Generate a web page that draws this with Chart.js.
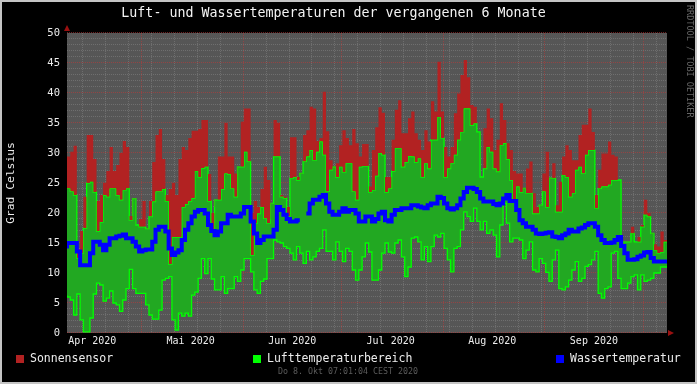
<!DOCTYPE html>
<html>
<head>
<meta charset="utf-8">
<title>Luft- und Wassertemperaturen</title>
<script src="https://cdn.jsdelivr.net/npm/chart.js@4.4.0/dist/chart.umd.min.js"></script>
<style>
  html, body { margin: 0; padding: 0; background: #000; }
  #wrap { width: 697px; height: 384px; }
</style>
</head>
<body>
<div id="wrap"><canvas id="temp-chart" width="697" height="384"></canvas></div>
<script>
const FONT = "'DejaVu Sans Mono', monospace";
const RED = "#b22222";
const GREEN_FILL = "#22a822";
const LIME = "#00ff00";
const BLUE = "#0000ff";
const PLOT_BG = "#565656";
const TEXT_COLOR = "#ececec";

// x axis is counted in days from 1 Apr 2020 00:00
const X_MIN = 7.29; // 8 Apr 07:01
const X_MAX = 190.29; // 8 Okt 07:01
const FIRST_DAY = 7.29; // start of the first daily value

const MONTH_LABELS = ["Apr 2020", "Mai 2020", "Jun 2020", "Jul 2020", "Aug 2020", "Sep 2020"];
const MONTH_LABEL_DAYS = [15, 45, 76, 106, 137, 168];
const MONTH_START_DAYS = [30, 61, 91, 122, 153, 183];
const MONDAY_DAYS = [12, 19, 26, 33, 40, 47, 54, 61, 68, 75, 82, 89, 96, 103, 110, 117, 124, 131, 138, 145, 152, 159, 166, 173, 180, 187];
const Y_LABELS = [0, 5, 10, 15, 20, 25, 30, 35, 40, 45, 50];

// daily values
const sunMax = [
  33.7, 29.4, 30.2, 31.2, 14, 17, 22.7, 33, 33, 29, 22, 23, 25, 27, 31, 27, 28, 30, 32, 31,
  19.5, 18, 17.5, 19, 22, 17, 22, 28.5, 33, 34, 29, 23, 24, 25, 23, 29, 31, 30.5, 32.5, 33.7,
  33.7, 34, 35.5, 35.5, 26.5, 20,
  21, 29.4, 29.4, 35, 29.4, 29.4, 26.6, 26.6, 35.2, 37.4, 37.4, 20, 22, 21, 24, 27.7, 25.5, 19,
  35.5, 35, 23, 22.7, 21, 32.6, 32.6, 26, 25.7, 33, 33.8, 37.7, 37.4, 32, 32.5, 40.2, 33.6, 28.8,
  23.5, 28.3, 31.3, 33.8, 32.5, 31.3, 34, 31.6, 29.4,
  31.5, 31.5, 24.4, 30.5, 34.3, 37.6, 36.7, 26, 26, 32.2, 37.2, 38.8, 33.3, 33.3, 35.8, 36.9,
  33.3, 32.2, 30.5, 33.8, 31.9, 38.6, 36.9, 45.2, 36.9, 31, 29.4, 31, 36.6, 39.9, 43, 45.5, 42.6,
  38, 37.7, 32.2, 26, 34.1, 37.4, 35.8, 30.5, 32.2, 38.3, 35.5, 31.6, 30.5,
  27, 26.6, 26.6, 21.5, 27.4, 28.6, 23.3, 21, 18, 26.6, 30.2, 22, 28.3, 21.3, 25.2, 29.4, 31.3,
  30.5, 28.8, 28.8, 33, 34.7, 34.7, 37.4, 33.5, 23, 27.2, 29.9, 29.9, 31.9, 29.7, 29.4, 25, 14,
  14.7, 14.7, 17.7, 15.2, 16, 18, 22.2, 20, 15.2, 14.8, 14.4, 16.9, 15.5
];
const airMax = [
  24.4, 24.1, 23.6, 23, 12.5, 13.3, 17.5, 25, 25.2, 23.5, 17, 18.5, 23, 22.7, 24.1, 24.1, 23,
  22.2, 23.8, 24.1, 18.8, 22.4, 18, 17.7, 17.7, 17.4, 19.4, 21.9, 23.6, 23.6, 24, 22, 11.5, 16,
  16, 16, 21, 21.5, 22, 22.5, 27, 26, 27.5, 27.7, 22, 17,
  22.2, 22.2, 24, 26.6, 26.5, 24.1, 22.7, 27.7, 27.7, 30.2, 28.6, 13, 18.3, 19.9, 21, 19.1, 18.3,
  21.6, 29.4, 29.4, 22.7, 22.5, 19.5, 25.8, 26, 25.5, 26.6, 28.6, 29.4, 30.5, 28.8, 30.2, 31.9,
  29.7, 23.6, 27.2, 27.7, 26, 27.7, 26.8, 28.3, 28.3, 23.6, 22.2, 27.7,
  27.8, 27.8, 23.5, 23.8, 26.2, 30, 29.7, 23.5, 24.1, 27, 30.8, 30.8, 27.7, 28.5, 29.5, 29.4,
  28.5, 29.1, 26, 28.3, 27.4, 32.2, 32.2, 36, 32.5, 26, 27.4, 28.3, 29.7, 32.2, 33.5, 37.4, 37.4,
  34.6, 34.9, 33.5, 26, 27.4, 31, 30.2, 27.4, 26.9, 31.3, 31.6, 29, 25.5,
  22.2, 24.4, 23.5, 24.1, 23.3, 23.3, 19.9, 19.9, 21.3, 23.6, 21, 25.8, 25.8, 20.2, 20.2, 26.3,
  26, 22.7, 23.3, 27.2, 27.7, 26.6, 29.7, 30.5, 30.5, 20.8, 24.1, 24.4, 24.4, 24.7, 25.5, 25.5,
  25.5, 15.2, 15.2, 15.2, 16.6, 15.2, 15.2, 17.7, 19.7, 19.4, 16.6, 13.8, 13.3, 13.5, 15.2
];
const airMin = [
  6.3, 6, 5.5, 3, 6.5, 2.2, 0.2, 0.2, 2.5, 6.5, 8.3, 8, 5.3, 5.8, 7, 5, 4.7, 3.6, 5.5, 7.4, 10.6,
  7.4, 6.6, 6.6, 6.6, 4.7, 3, 2.3, 2.3, 3.8, 8.8, 9.1, 9.4, 2.2, 0.5, 3.3, 2.8, 3.3, 2.8, 6.3,
  6.8, 9.1, 12.4, 9.9, 12.4, 9,
  7.2, 7.2, 9.4, 6.6, 7.4, 7.4, 9.4, 8.6, 10.5, 12.4, 12.4, 10.2, 7.2, 6.6, 8.6, 9, 12.4, 12.4,
  15.5, 15.2, 15, 14.4, 14.1, 13.3, 12.2, 14.4, 13.3, 11.6, 13.6, 12.2, 12.7, 13.6, 14.1, 17.2,
  13.6, 13.6, 12.2, 15.2, 13.6, 11.9, 14.1, 13.6, 10.5, 8.8, 10.5,
  12.7, 15, 13.5, 8.8, 8.8, 10.5, 13.3, 15, 13.5, 13.3, 15, 15.5, 12.7, 9.4, 11, 15.8, 16, 15.2,
  12.2, 14.4, 11.9, 14.4, 16.3, 16, 16.6, 14.1, 12.2, 10.2, 14.1, 14.4, 17.2, 20.2, 19.4, 18.6,
  20.8, 18.6, 17.2, 18.6, 16.6, 17.2, 16.3, 12.7, 18, 21.6, 18.3, 15.2,
  15.8, 15.8, 15.5, 12.4, 13.8, 15.2, 10.5, 10.2, 12.4, 11.6, 10.1, 8.6, 12.2, 13.8, 7.4, 7.2,
  7.7, 8.8, 10.5, 11.9, 8.6, 9.1, 11.1, 11.4, 12.2, 13.6, 6.6, 5.8, 7.4, 7.7, 13.3, 13.6, 9.1,
  7.4, 7.4, 8.3, 9.4, 9.7, 7.2, 9.7, 8.6, 8.8, 9.1, 10, 10, 11, 11
];
const water = [
  14.1, 15, 15, 15, 13.6, 11.3, 11.3, 11.3, 13.3, 15.2, 15.2, 14.7, 13.8, 14.7, 15.8, 15.8, 16.1,
  16.2, 16.4, 15.8, 15.8, 15.2, 14.4, 13.6, 13.8, 13.9, 13.9, 15.2, 17.2, 17.7, 17.7, 16.9, 14.1,
  13, 13.4, 13.8, 15.5, 17.2, 18.3, 19.4, 20.2, 20.5, 20.5, 19.9, 18, 17,
  16.3, 16.9, 18.3, 18.3, 19.7, 19.4, 19.4, 19.4, 19.9, 21, 21, 18.6, 16.6, 15, 15.5, 16.1, 16.1,
  16.1, 17.2, 21, 20.5, 19.7, 19, 18.6, 18.6, 18.8, null, 19.9, 19.9, 21.6, 22.2, 22.2, 22.7, 23,
  21.6, 20.2, 19.7, 19.7, 20.2, 20.8, 20.2, 20.5, 20.5, 19.9, 18.6,
  18.6, 19.4, 19.4, 18.6, 19, 19.9, 20.2, 18.8, 18.6, 19.7, 20.5, 20.5, 20.8, 20.8, 20.8, 21.3,
  21.3, 21.1, 20.9, 20.8, 21.3, 21.6, 21.6, 22.7, 22.5, 21.6, 20.8, 20.6, 20.8, 21.3, 22.4, 23.5,
  24.2, 24.2, 24, 23.5, 22.4, 21.9, 21.9, 21.9, 21.5, 21.3, 21.6, 22.4, 23, 22,
  22, 20.5, 18.8, 18.3, 17.7, 17.7, 17.2, 16.6, 16.5, 16.6, 16.7, 16.8, 16.1, 16, 15.8, 16.3,
  16.6, 17.2, 16.9, 16.9, 17.4, 17.6, 18, 18.3, 18.3, 17.7, 16.3, 15.5, 15, 15, 15.1, 15.5, 16,
  14.5, 13.3, 12.2, 12.2, 12.3, 12.7, 12.9, 13.4, 13.5, 12.5, 11.9, 11.9, 11.9, 11.9
];

// one point per day start, plus a closing point so the last step has a width
function toSteps(values) {
  const pts = values.map((v, i) => ({ x: FIRST_DAY + i, y: v }));
  pts.push({ x: FIRST_DAY + values.length, y: values[values.length - 1] });
  return pts;
}

const MINOR_GRID = "rgba(170,170,170,0.30)";
const MAJOR_GRID = "rgba(200,55,55,0.55)";

const backgroundPlugin = {
  id: "rrdBackground",
  beforeDraw(chart) {
    const { ctx, chartArea: a, width, height } = chart;
    ctx.save();
    ctx.fillStyle = "#000";
    ctx.fillRect(0, 0, width, height);
    ctx.strokeStyle = "#c4c4c4";
    ctx.lineWidth = 2;
    ctx.strokeRect(1, 1, width - 2, height - 2);
    ctx.fillStyle = PLOT_BG;
    ctx.fillRect(a.left, a.top, a.right - a.left, a.bottom - a.top);
    ctx.restore();
  },
};

const decorPlugin = {
  id: "rrdDecor",
  afterDraw(chart) {
    const { ctx, chartArea: a } = chart;
    ctx.save();
    // axis arrows
    ctx.fillStyle = "#9a1010";
    ctx.beginPath();
    ctx.moveTo(a.left - 3, a.top - 2);
    ctx.lineTo(a.left + 3, a.top - 2);
    ctx.lineTo(a.left, a.top - 8);
    ctx.closePath();
    ctx.fill();
    ctx.beginPath();
    ctx.moveTo(a.right + 1, a.bottom - 3);
    ctx.lineTo(a.right + 1, a.bottom + 3);
    ctx.lineTo(a.right + 7, a.bottom);
    ctx.closePath();
    ctx.fill();

    // legend
    const legendX = [16, 253, 556];
    ctx.font = "11.5px " + FONT;
    ctx.textBaseline = "middle";
    ctx.textAlign = "left";
    chart.data.datasets
      .filter((ds) => ds.legendColor)
      .forEach((ds, i) => {
        ctx.fillStyle = ds.legendColor;
        ctx.fillRect(legendX[i], 355, 8, 8);
        ctx.fillStyle = TEXT_COLOR;
        ctx.fillText(ds.label, legendX[i] + 14, 359);
      });

    // time stamp
    ctx.font = "8.3px " + FONT;
    ctx.fillStyle = "#5c5c5c";
    ctx.textAlign = "center";
    ctx.fillText("Do 8. Okt 07:01:04 CEST 2020", 348, 372);

    // vertical watermark
    ctx.translate(689, 5);
    ctx.rotate(Math.PI / 2);
    ctx.textAlign = "left";
    ctx.font = "8.5px " + FONT;
    ctx.fillStyle = "#666666";
    ctx.fillText("RRDTOOL / TOBI OETIKER", 0, 0);
    ctx.restore();
  },
};

function xGridColor(c) {
  const v = c.tick ? c.tick.value : null;
  if (MONTH_START_DAYS.includes(v)) return MAJOR_GRID;
  if (MONDAY_DAYS.includes(v)) return MINOR_GRID;
  return "rgba(0,0,0,0)";
}

function yGridColor(c) {
  const v = c.tick ? c.tick.value : null;
  return Y_LABELS.includes(v) ? MAJOR_GRID : MINOR_GRID;
}

const ctx = document.getElementById("temp-chart").getContext("2d");
const chart = new Chart(ctx, {
  type: "line",
  data: {
    datasets: [
      {
        label: "Sonnensensor",
        data: toSteps(sunMax),
        stepped: "after",
        borderWidth: 1,
        borderColor: "rgba(0,0,0,0)",
        backgroundColor: RED,
        fill: { target: 1, above: RED, below: "rgba(0,0,0,0)" },
        pointRadius: 0,
        order: 2,
        legendColor: RED,
      },
      {
        label: "Lufttemperaturbereich",
        data: toSteps(airMax),
        stepped: "after",
        borderWidth: 1.3,
        borderColor: LIME,
        backgroundColor: GREEN_FILL,
        fill: { target: 2, above: GREEN_FILL, below: GREEN_FILL },
        pointRadius: 0,
        order: 4,
        legendColor: LIME,
      },
      {
        label: "Lufttemperatur Minimum",
        data: toSteps(airMin),
        stepped: "after",
        borderWidth: 1.3,
        borderColor: LIME,
        fill: false,
        pointRadius: 0,
        order: 3,
      },
      {
        label: "Wassertemperatur",
        data: toSteps(water),
        stepped: "after",
        borderWidth: 4,
        borderColor: BLUE,
        fill: false,
        pointRadius: 0,
        spanGaps: false,
        order: 1,
        legendColor: BLUE,
      },
    ],
  },
  options: {
    responsive: false,
    animation: false,
    devicePixelRatio: 1,
    events: [],
    layout: { padding: { left: 0, right: 30, top: 0, bottom: 0 } },
    scales: {
      x: {
        type: "linear",
        min: X_MIN,
        max: X_MAX,
        afterBuildTicks(scale) {
          const vals = [...new Set([...MONDAY_DAYS, ...MONTH_START_DAYS, ...MONTH_LABEL_DAYS])]
            .filter((v) => v >= X_MIN && v <= X_MAX)
            .sort((p, q) => p - q);
          scale.ticks = vals.map((v) => ({ value: v }));
        },
        afterFit(scale) {
          scale.height = 51;
          scale.paddingLeft = 0;
          scale.paddingRight = 0;
        },
        ticks: {
          autoSkip: false,
          maxRotation: 0,
          padding: 2,
          color: TEXT_COLOR,
          font: { family: FONT, size: 10 },
          callback: (value) => {
            const i = MONTH_LABEL_DAYS.indexOf(value);
            return i >= 0 ? MONTH_LABELS[i] : "";
          },
        },
        grid: { drawTicks: false, color: xGridColor, lineWidth: 1 },
        border: { display: false, dash: [1, 1] },
      },
      y: {
        min: 0,
        max: 50,
        afterBuildTicks(scale) {
          const vals = [];
          for (let v = 0; v <= 50; v++) vals.push({ value: v });
          scale.ticks = vals;
        },
        afterFit(scale) {
          scale.width = 67;
        },
        ticks: {
          autoSkip: false,
          padding: 7,
          color: TEXT_COLOR,
          font: { family: FONT, size: 10.5 },
          callback: (value) => (Y_LABELS.includes(value) ? String(value) : ""),
        },
        grid: { drawTicks: false, color: yGridColor, lineWidth: 1 },
        border: { display: false, dash: [1, 1] },
        title: {
          display: true,
          text: "Grad Celsius",
          color: TEXT_COLOR,
          font: { family: FONT, size: 11.3 },
          padding: { top: 4, bottom: 0 },
        },
      },
    },
    plugins: {
      legend: { display: false },
      tooltip: { enabled: false },
      title: {
        display: true,
        text: "Luft- und Wassertemperaturen der vergangenen 6 Monate",
        color: "#f4f4f4",
        font: { family: FONT, size: 13.3, weight: "normal" },
        padding: { top: 6, bottom: 11 },
      },
    },
  },
  plugins: [backgroundPlugin, decorPlugin],
});
</script>
</body>
</html>
